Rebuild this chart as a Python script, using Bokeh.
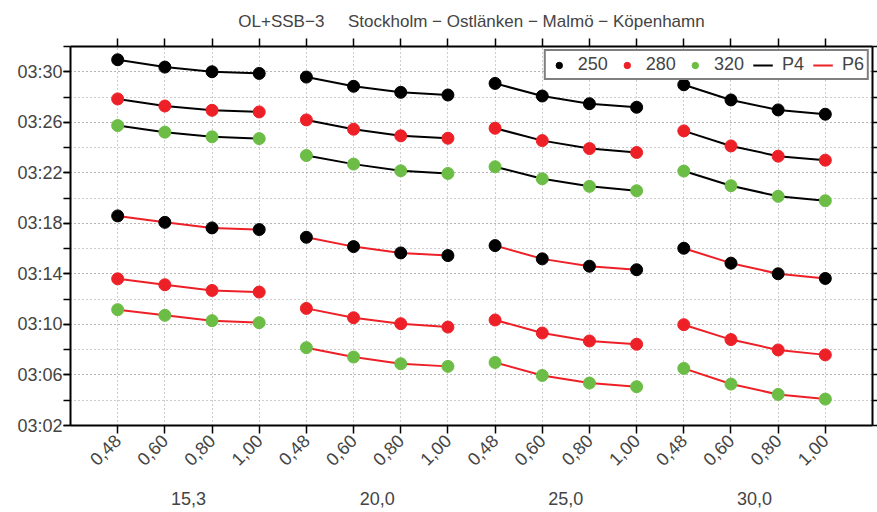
import math
from bokeh.plotting import figure
from bokeh.models import Range1d, LinearAxis, FixedTicker, Legend, LegendItem
from bokeh.embed import file_html
from bokeh.resources import INLINE

# ---------------- data ----------------
title_text = "OL+SSB\u22123\u00a0\u00a0\u00a0\u00a0 Stockholm \u2212 Ostlänken \u2212 Malmö \u2212 Köpenhamn"
groups = ["15,3", "20,0", "25,0", "30,0"]
factors = ["0,48", "0,60", "0,80", "1,00"]
y_tick_labels = ["03:02", "03:06", "03:10", "03:14", "03:18", "03:22", "03:26", "03:30"]
legend_labels = ["250", "280", "320", "P4", "P6"]

# travel times in minutes after 03:00 (4 groups x 4 factors)
p4_250 = [30.95, 30.37, 30.00, 29.87, 29.58, 28.85, 28.37, 28.16,
          29.08, 28.08, 27.47, 27.19, 28.97, 27.77, 26.98, 26.64]
p4_280 = [27.85, 27.29, 26.95, 26.82, 26.19, 25.45, 24.93, 24.74,
          25.53, 24.55, 23.92, 23.61, 25.32, 24.13, 23.32, 23.00]
p4_320 = [25.74, 25.22, 24.85, 24.71, 23.37, 22.69, 22.16, 21.95,
          22.48, 21.53, 20.93, 20.58, 22.14, 20.98, 20.14, 19.79]
p6_250 = [18.59, 18.08, 17.64, 17.51, 16.90, 16.16, 15.66, 15.45,
          16.24, 15.19, 14.61, 14.33, 16.03, 14.85, 14.01, 13.64]
p6_280 = [13.61, 13.14, 12.69, 12.56, 11.27, 10.53, 10.06, 9.79,
          10.35, 9.32, 8.69, 8.43, 9.98, 8.80, 7.98, 7.59]
p6_320 = [11.17, 10.72, 10.30, 10.14, 8.16, 7.42, 6.89, 6.68,
          6.99, 5.96, 5.36, 5.07, 6.52, 5.28, 4.46, 4.09]

# ---------------- styles ----------------
BLACK = "#000000"
RED = "#EE2027"
GREEN = "#6CBD45"
FONT = "Liberation Sans"
GRID = "#9a9a9a"

n_g = len(groups)
n_f = len(factors)
xs = [g * n_f + i + 1 for g in range(n_g) for i in range(n_f)]
x_labels = {x: factors[(x - 1) % n_f] for x in xs}
group_pos = [g * n_f + (n_f + 1) / 2 for g in range(n_g)]


def lab_to_min(s):
    h, m = s.split(":")
    return (int(h) - 3) * 60 + int(m)


y_major = [lab_to_min(s) for s in y_tick_labels]
y_minor = [v + 2 for v in y_major]
y_all = sorted(set(y_major + y_minor))

p = figure(width=877, height=512, output_backend="svg", toolbar_location=None,
           x_range=Range1d(0, 17), y_range=Range1d(2, 32),
           min_border_left=70, min_border_right=5, min_border_top=46,
           min_border_bottom=87, title=title_text)
p.outline_line_color = None
p.background_fill_color = "white"

p.title.align = "center"
p.title.text_font = FONT
p.title.text_font_size = "17px"
p.title.text_font_style = "normal"
p.title.standoff = 15

# bottom axis: factor labels
xax = p.xaxis[0]
xax.ticker = FixedTicker(ticks=xs)
xax.major_label_overrides = x_labels
xax.major_label_orientation = math.pi / 4
xax.major_label_text_font = FONT
xax.major_label_text_font_size = "18px"
xax.major_tick_out = 8
xax.major_tick_in = 0
xax.minor_tick_out = 0
xax.minor_tick_in = 0
xax.major_label_standoff = 4
xax.axis_line_width = 2
xax.major_tick_line_width = 1.5

# second bottom axis: group labels
gax = LinearAxis(ticker=FixedTicker(ticks=group_pos),
                 major_label_overrides={v: g for v, g in zip(group_pos, groups)})
gax.axis_line_color = None
gax.major_tick_line_color = None
gax.minor_tick_line_color = None
gax.major_label_text_font = FONT
gax.major_label_text_font_size = "18px"
gax.major_label_standoff = 11
p.add_layout(gax, "below")

# left axis
yax = p.yaxis[0]
yax.ticker = FixedTicker(ticks=y_major, minor_ticks=y_all)
yax.major_label_overrides = {v: s for v, s in zip(y_major, y_tick_labels)}
yax.major_label_text_font = FONT
yax.major_label_text_font_size = "18px"
yax.major_tick_out = 7
yax.major_tick_in = 0
yax.minor_tick_out = 7
yax.minor_tick_in = 0
yax.major_label_standoff = 1
yax.axis_line_width = 2
yax.major_tick_line_width = 1.5
yax.minor_tick_line_width = 1.5

# top axis: ticks only
tax = LinearAxis(ticker=FixedTicker(ticks=xs),
                 major_label_overrides={x: "" for x in xs})
tax.major_tick_out = 8
tax.major_tick_in = 0
tax.major_label_standoff = 0
tax.major_label_text_font_size = "0px"
tax.axis_line_width = 2
tax.major_tick_line_width = 1.5
p.add_layout(tax, "above")

# right axis: ticks only
rax = LinearAxis(ticker=FixedTicker(ticks=y_all),
                 major_label_overrides={v: "" for v in y_all})
rax.major_tick_out = 5
rax.major_tick_in = 0
rax.major_label_standoff = 0
rax.major_label_text_font_size = "0px"
rax.axis_line_width = 2
rax.major_tick_line_width = 1.5
p.add_layout(rax, "right")

# grids
p.xgrid.ticker = FixedTicker(ticks=xs)
p.ygrid.ticker = FixedTicker(ticks=y_major, minor_ticks=y_all)
for gr in (p.xgrid, p.ygrid):
    gr.grid_line_color = GRID
    gr.grid_line_dash = "1 3"
    gr.grid_line_width = 1
p.ygrid.minor_grid_line_color = GRID
p.ygrid.minor_grid_line_dash = "1 3"
p.ygrid.minor_grid_line_width = 1

# lines + points
series = [
    (p4_250, BLACK, BLACK), (p4_280, BLACK, RED), (p4_320, BLACK, GREEN),
    (p6_250, RED, BLACK), (p6_280, RED, RED), (p6_320, RED, GREEN),
]
line_r = {}
dot_r = {}
for vals, lc, dc in series:
    for g in range(n_g):
        gx = xs[g * n_f:(g + 1) * n_f]
        gy = vals[g * n_f:(g + 1) * n_f]
        r = p.line(gx, gy, line_color=lc, line_width=2)
        line_r.setdefault(lc, r)
for vals, lc, dc in series:
    r = p.scatter(xs, vals, size=12, fill_color=dc, line_color=dc)
    dot_r.setdefault(dc, r)

legend = Legend(items=[
    LegendItem(label=legend_labels[0], renderers=[dot_r[BLACK]]),
    LegendItem(label=legend_labels[1], renderers=[dot_r[RED]]),
    LegendItem(label=legend_labels[2], renderers=[dot_r[GREEN]]),
    LegendItem(label=legend_labels[3], renderers=[line_r[BLACK]]),
    LegendItem(label=legend_labels[4], renderers=[line_r[RED]]),
])
legend.location = "top_right"
legend.orientation = "horizontal"
legend.margin = 3
legend.padding = 3
legend.spacing = 9
legend.glyph_width = 20
legend.glyph_height = 16
legend.label_height = 16
legend.label_standoff = 9
legend.label_text_font = FONT
legend.label_text_font_size = "18px"
legend.border_line_color = "black"
legend.border_line_width = 2
legend.background_fill_alpha = 1
p.add_layout(legend)

open("out.html", "w").write(file_html(p, INLINE))
